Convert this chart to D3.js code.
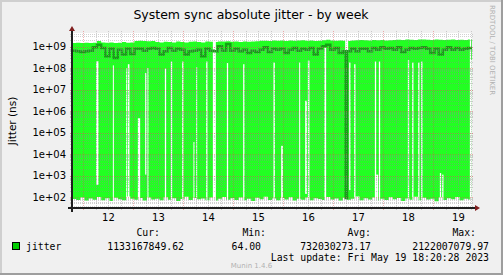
<!DOCTYPE html>
<html>
<head>
<meta charset="utf-8">
<script src="https://cdn.jsdelivr.net/npm/d3@7"></script>
<style>
body { margin: 0; background: #f0f0f0; }
svg text { font-family: "DejaVu Sans", sans-serif; }
svg .mono { font-family: "DejaVu Sans Mono", monospace; }
</style>
</head>
<body>
<script>
// time window of the week graph
var start = new Date(2023, 4, 11, 18, 30)
var end = new Date(2023, 4, 19, 18, 30)

// two-hourly samples (ns) starting at `start`
var maxVals = [1.45e9,1.5e9,1.45e9,1.5e9,1.45e9,1.5e9,1.8e9,1.55e9,1.5e9,1.55e9,
  1.45e9,1.5e9,1.6e9,1.5e9,1.55e9,1.8e9,1.85e9,1.8e9,1.75e9,1.8e9,
  1.6e9,1.55e9,1.65e9,1.6e9,1.55e9,1.7e9,1.6e9,1.55e9,1.65e9,1.7e9,
  1.6e9,1.55e9,1.7e9,1.65e9,1.6e9,1.7e9,1.7e9,1.75e9,1.65e9,1.7e9,
  1.6e9,1.7e9,1.65e9,1.7e9,1.75e9,1.85e9,1.85e9,1.8e9,1.9e9,1.85e9,
  1.9e9,1.8e9,1.9e9,1.85e9,1.9e9,1.95e9,1.85e9,1.9e9,1.8e9,1.85e9,
  1.95e9,2.05e9,1.9e9,1.85e9,1.9e9,1.85e9,1.8e9,1.9e9,1.95e9,2.0e9,
  1.95e9,1.9e9,2.0e9,1.95e9,2.0e9,1.9e9,1.95e9,2.0e9,2.05e9,2.0e9,
  2.1e9,2.05e9,2.0e9,2.1e9,2.12e9,2.05e9,2.0e9,2.1e9,2.05e9,2.0e9,
  2.05e9,2.1e9,2.0e9,2.05e9,2.0e9,2.1e9,2.05e9]
var avgVals = [6.4e8,6.0e8,5.5e8,6.0e8,6.4e8,9.2e8,1.21e9,8.5e8,3.5e8,7.9e8,
  2.9e8,7.1e8,4.2e8,7.9e8,4.5e8,7.9e8,7.9e8,6.4e8,7.9e8,8.5e8,
  7.9e8,4.2e8,6.0e8,8.5e8,6.4e8,7.9e8,7.1e8,4.2e8,6.0e8,6.4e8,
  7.1e8,3.5e8,7.9e8,6.4e8,6.0e8,1.02e9,6.4e8,1.31e9,6.4e8,7.9e8,
  6.0e8,7.1e8,5.0e8,6.4e8,5.5e8,7.1e8,9.2e8,5.5e8,7.9e8,7.1e8,
  7.9e8,5.0e8,7.1e8,8.5e8,6.4e8,7.9e8,7.1e8,8.5e8,4.2e8,7.9e8,
  1.02e9,1.21e9,7.1e8,8.5e8,5.0e8,6.0e8,6.0e8,7.9e8,6.0e8,7.9e8,
  7.9e8,6.0e8,8.5e8,7.1e8,9.2e8,7.9e8,8.5e8,7.1e8,9.2e8,5.5e8,
  7.1e8,8.5e8,7.9e8,8.5e8,9.2e8,7.9e8,5.0e8,7.9e8,4.2e8,7.1e8,
  9.2e8,7.1e8,8.5e8,7.1e8,7.9e8,8.5e8,8.5e8]
var minVals = [80,72,95,68,85,75,100,70,88,66,
  92,78,70,105,82,74,90,68,96,76,
  84,70,98,74,88,66,80,102,72,90,
  78,86,70,94,68,82,100,74,88,72,
  95,70,84,66,92,78,104,72,86,70,
  90,76,98,68,84,74,96,70,88,80,
  72,100,76,86,68,92,74,82,106,70,
  88,76,94,68,84,72,98,78,90,66,
  86,74,102,70,92,76,84,64,96,72,
  88,78,100,70,84,76,90]

// short drops of the average: [from day, to day, value]
var avgDips = [[17.245, 17.28, 90]]

// holes in the min/max band: [from day, to day, low, high]
var gaps = [
  [12.254, 12.300, 370, 2.05e8],
  [12.588, 12.608, 1, 1.33e8],
  [12.854, 12.874, 1, 1.0e8],
  [12.888, 12.920, 1, 1.5e8],
  [13.088, 13.134, 1, 4.6e5],
  [13.234, 13.260, 1100, 5.9e7],
  [13.280, 13.300, 1, 1.0e8],
  [13.628, 13.654, 1, 9.3e7],
  [13.748, 13.774, 1, 2.0e8],
  [13.974, 14.000, 1, 2.0e8],
  [14.200, 14.220, 1, 3.6e4],
  [14.254, 14.274, 1, 1.1e8],
  [14.454, 14.480, 1, 2.0e8],
  [14.588, 14.648, 1, 1e10],
  [14.868, 14.894, 1, 1.7e8],
  [15.194, 15.220, 1, 1.5e8],
  [15.800, 15.828, 1, 1.8e8],
  [15.954, 15.988, 1, 2.4e4],
  [16.314, 16.334, 1, 1.8e8],
  [16.434, 16.468, 140, 3.0e6],
  [16.488, 16.520, 1, 2.2e8],
  [16.820, 16.854, 1, 9.0e8],
  [17.234, 17.294, 4.6e8, 1e10],
  [17.314, 17.340, 210, 1.8e8],
  [17.414, 17.440, 1, 1.5e8],
  [17.828, 17.854, 1, 2.0e8],
  [17.854, 17.894, 1, 1100],
  [17.908, 17.934, 1, 2.0e8],
  [18.488, 18.514, 1, 2.3e8],
  [18.574, 18.600, 1, 1.8e8],
  [18.694, 18.720, 1, 1.8e8],
  [18.754, 18.780, 1, 2.0e8],
  [19.128, 19.154, 1, 1300],
  [19.174, 19.200, 1, 1100],
  [19.728, 19.754, 1, 1e10],
  [19.754, 19.780, 1, 2.4e8]
]

var yTicks = [1e2, 1e3, 1e4, 1e5, 1e6, 1e7, 1e8, 1e9]
var yLabels = ["1e+02", "1e+03", "1e+04", "1e+05", "1e+06", "1e+07", "1e+08", "1e+09"]
var xDays = [12, 13, 14, 15, 16, 17, 18, 19]
var xLabels = ["12", "13", "14", "15", "16", "17", "18", "19"]

var statNames = ["Cur:", "Min:", "Avg:", "Max:"]
var statVals = ["1133167849.62", "64.00", "732030273.17", "2122007079.97"]

var W = 503, H = 275
var X0 = 72, X1 = 472, Y0 = 208, Y1 = 33

var dayTime = d => new Date(2023, 4, 1).getTime() + (d - 1) * 864e5

var svg = d3.select("body")
            .append("svg")
            .attr("width", W)
            .attr("height", H)
            .style("display", "block")

var x = d3.scaleTime().domain([start, end]).range([X0, X1])
var y = d3.scaleLog().domain([30.8, 4.25e9]).range([Y0, Y1]).clamp(true)

// background and shaded frame
svg.append("rect").attr("width", W).attr("height", H).attr("fill", "#f0f0f0")
svg.append("path").attr("d", `M0,0H${W}V2H2V${H}H0Z`).attr("fill", "#cfcfcf")
svg.append("path").attr("d", `M${W},${H}H0V${H - 2}H${W - 2}V0H${W}Z`).attr("fill", "#9e9e9e")

svg.append("rect")
   .attr("x", X0).attr("y", Y1)
   .attr("width", X1 - X0).attr("height", Y0 - Y1)
   .attr("fill", "#fff")

svg.append("clipPath").attr("id", "plot")
   .append("rect").attr("x", X0).attr("y", Y1).attr("width", X1 - X0).attr("height", Y0 - Y1)

var g = svg.append("g").attr("clip-path", "url(#plot)")

var band = maxVals.map((v, i) => ({t: +start + i * 72e5, max: v, min: minVals[i]}))

var area = d3.area()
             .x(d => x(d.t))
             .y0(d => y(d.min))
             .y1(d => y(d.max))
             .curve(d3.curveStepAfter)

g.append("path").datum(band).attr("d", area).attr("fill", "#22ff22")

g.selectAll("rect.gap")
 .data(gaps)
 .enter().append("rect")
 .attr("class", "gap")
 .attr("x", d => x(dayTime(d[0])))
 .attr("width", d => Math.max(1, x(dayTime(d[1])) - x(dayTime(d[0]))))
 .attr("y", d => y(d[3]))
 .attr("height", d => y(d[2]) - y(d[3]))
 .attr("fill", "#fff")

var avgPts = avgVals.map((v, i) => ({t: +start + i * 72e5, v: v}))
avgDips.forEach(dp => {
    var t0 = dayTime(dp[0]), t1 = dayTime(dp[1])
    var back = avgPts.filter(p => p.t <= t1).pop().v
    avgPts.push({t: t0, v: dp[2]}, {t: t1, v: back})
})
avgPts.sort((a, b) => a.t - b.t)

var line = d3.line().x(d => x(d.t)).y(d => y(d.v)).curve(d3.curveStepAfter)
g.append("path").datum(avgPts).attr("d", line)
 .attr("fill", "none").attr("stroke", "#16a016").attr("stroke-width", 2.5)

// grid on top of the graph
var minorCol = "rgba(143,143,143,0.4)", majorCol = "rgba(222,79,79,0.45)"
var grid = svg.append("g").attr("shape-rendering", "crispEdges")

var hours = d3.timeHour.every(6).range(start, end)
hours.forEach(h => {
    var xx = Math.round(x(h)) + 0.5
    var major = h.getHours() === 0
    var col = major ? majorCol : minorCol
    grid.append("line").attr("x1", xx).attr("x2", xx).attr("y1", Y0 + 2).attr("y2", Y1 - 2)
        .attr("stroke", col).attr("stroke-dasharray", "1,1")
})

var minors = []
for (var e = 1; e <= 9; e++) {
    for (var m = 2; m <= 9; m++) minors.push(m * Math.pow(10, e))
}
minors.filter(v => v > y.domain()[0] && v < y.domain()[1]).forEach(v => {
    var yy = Math.round(y(v)) + 0.5
    grid.append("line").attr("x1", X0 - 2).attr("x2", X1 + 2).attr("y1", yy).attr("y2", yy)
        .attr("stroke", minorCol).attr("stroke-dasharray", "1,1")
})
yTicks.forEach(v => {
    var yy = Math.round(y(v)) + 0.5
    grid.append("line").attr("x1", X0 - 2).attr("x2", X1 + 2).attr("y1", yy).attr("y2", yy)
        .attr("stroke", majorCol).attr("stroke-dasharray", "1,1")
})

// axes and arrows
svg.append("line").attr("x1", X0 - 4).attr("x2", X1 + 4).attr("y1", Y0).attr("y2", Y0)
   .attr("stroke", "#1f1f1f").attr("stroke-width", 2)
svg.append("line").attr("x1", X0).attr("x2", X0).attr("y1", Y0 + 4).attr("y2", Y1 - 2)
   .attr("stroke", "#1f1f1f").attr("stroke-width", 2)
svg.append("path").attr("d", `M${X1 + 3},${Y0 - 3}L${X1 + 8},${Y0}L${X1 + 3},${Y0 + 3}Z`).attr("fill", "#801f1f")
svg.append("path").attr("d", `M${X0 - 3},${Y1 - 2}L${X0},${Y1 - 7}L${X0 + 3},${Y1 - 2}Z`).attr("fill", "#801f1f")

// tick labels
svg.selectAll("text.ylab")
   .data(yTicks)
   .enter().append("text")
   .attr("x", 66)
   .attr("y", d => y(d) + 3.5)
   .attr("text-anchor", "end")
   .attr("font-size", 10)
   .text((d, i) => yLabels[i])

svg.selectAll("text.xlab")
   .data(xDays)
   .enter().append("text")
   .attr("x", d => x(dayTime(d + 0.5)))
   .attr("y", 220.5)
   .attr("text-anchor", "middle")
   .attr("font-size", 10)
   .text((d, i) => xLabels[i])

svg.append("text").attr("x", 251).attr("y", 18.5).attr("text-anchor", "middle")
   .attr("font-size", 12.5).text("System sync absolute jitter - by week")

svg.append("text").attr("transform", "translate(16,121) rotate(-90)").attr("text-anchor", "middle")
   .attr("font-size", 10.5).text("Jitter (ns)")

svg.append("text").attr("transform", "translate(490,5) rotate(90)")
   .attr("font-size", 7).attr("fill", "#b0b0b0").text("RRDTOOL / TOBI OETIKER")

// legend
var statNameX = [160, 266, 371, 476], statValX = [184, 261, 371, 489]
svg.append("rect").attr("x", 12.5).attr("y", 242.5).attr("width", 7).attr("height", 7)
   .attr("fill", "#00cc00").attr("stroke", "#000")
svg.append("text").attr("class", "mono").attr("x", 26).attr("y", 249.5)
   .attr("font-size", 9.8).text("jitter")
statNames.forEach((s, i) => {
    svg.append("text").attr("class", "mono").attr("x", statNameX[i]).attr("y", 236)
       .attr("text-anchor", "end").attr("font-size", 9.8).text(s)
    svg.append("text").attr("class", "mono").attr("x", statValX[i]).attr("y", 249.5)
       .attr("text-anchor", "end").attr("font-size", 9.8).text(statVals[i])
})
svg.append("text").attr("class", "mono").attr("x", 489).attr("y", 261)
   .attr("text-anchor", "end").attr("font-size", 9.8).text("Last update: Fri May 19 18:20:28 2023")
svg.append("text").attr("x", 251.5).attr("y", 267.5).attr("text-anchor", "middle")
   .attr("font-size", 7).attr("fill", "#b0b0b0").text("Munin 1.4.6")
</script>
</body>
</html>
